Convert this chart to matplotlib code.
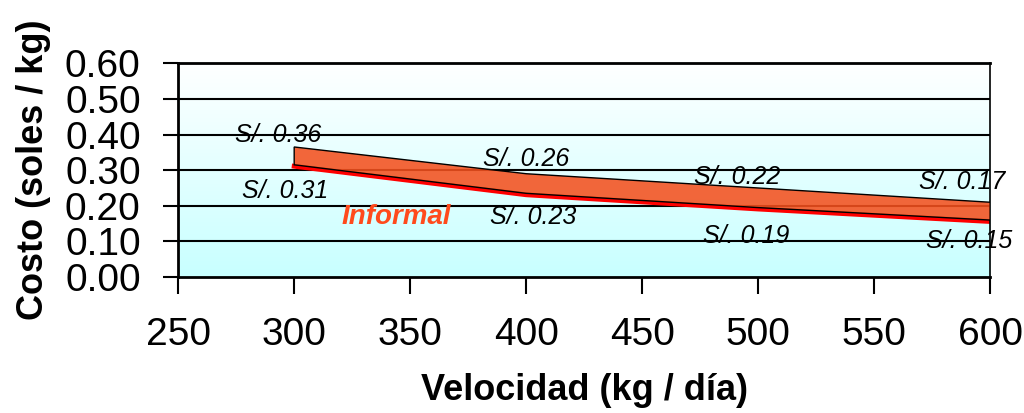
import numpy as np
import matplotlib
matplotlib.use('Agg')
import matplotlib.pyplot as plt

plt.rcParams['font.family'] = ['Liberation Sans', 'DejaVu Sans']

# datos del grafico
velocidad = [300, 400, 500, 600]
costo_alto = [0.365, 0.29, 0.25, 0.21]
costo_bajo = [0.315, 0.235, 0.195, 0.16]

etiquetas = ['S/. 0.36', 'S/. 0.26', 'S/. 0.22', 'S/. 0.17',
             'S/. 0.31', 'S/. 0.23', 'S/. 0.19', 'S/. 0.15']
etiq_x = [293, 400, 491, 588, 296, 403, 495, 591]
etiq_y = [0.40, 0.331, 0.28, 0.266, 0.241, 0.168, 0.115, 0.10]

xticks = [250, 300, 350, 400, 450, 500, 550, 600]
yticks = [0.0, 0.1, 0.2, 0.3, 0.4, 0.5, 0.6]


def run():
    fig = plt.figure(figsize=(10.24, 4.13), dpi=100)
    ax = fig.add_axes([0.174, 0.329, 0.793, 0.518])

    # fondo degradado blanco -> celeste
    grad = np.linspace(0, 1, 256).reshape(-1, 1)
    cmap = matplotlib.colors.LinearSegmentedColormap.from_list('bg', ['#ffffff', '#c8ffff'])
    ax.imshow(grad, extent=[250, 600, 0, 0.6], origin='upper', aspect='auto',
              cmap=cmap, zorder=0)
    ax.set_xlim(250, 600)
    ax.set_ylim(0, 0.6)

    for y in yticks[1:-1]:
        ax.axhline(y, color='black', lw=1.5, zorder=1)

    # banda "Informal"
    ax.plot(velocidad, [v - 0.004 for v in costo_bajo], color='#ff0000', lw=3.5, zorder=2)
    xs = velocidad + velocidad[::-1]
    ys = costo_alto + costo_bajo[::-1]
    ax.fill(xs, ys, facecolor='#f4511e', edgecolor='none', alpha=0.88, zorder=3)
    ax.fill(xs, ys, facecolor='none', edgecolor='black', lw=1.0, zorder=4)

    for t, x, y in zip(etiquetas, etiq_x, etiq_y):
        ax.text(x, y, t, fontsize=18, style='italic', ha='center', va='center',
                clip_on=False, zorder=5)
    ax.text(344, 0.168, 'Informal', fontsize=20, style='italic', weight='bold',
            color='#ff4a1c', ha='center', va='center', zorder=5)

    ax.set_xticks(xticks)
    ax.set_yticks(yticks)
    ax.set_yticklabels(['%.2f' % v for v in yticks])
    ax.tick_params(axis='x', direction='out', length=12, width=1.5, labelsize=28, pad=17)
    ax.tick_params(axis='y', direction='out', length=11, width=1.5, labelsize=28, pad=16)
    for s in ['left', 'bottom', 'top']:
        ax.spines[s].set_linewidth(2)
    ax.spines['right'].set_linewidth(1.2)

    ax.set_xlabel('Velocidad (kg / día)', fontsize=26, weight='bold', labelpad=14)
    ax.set_ylabel('Costo (soles / kg)', fontsize=26, weight='bold')
    ax.yaxis.set_label_coords(-0.157, 0.5)
    return fig


def main():
    fig = run()
    fig.savefig('out.png', dpi=100)


if __name__ == '__main__':
    main()
